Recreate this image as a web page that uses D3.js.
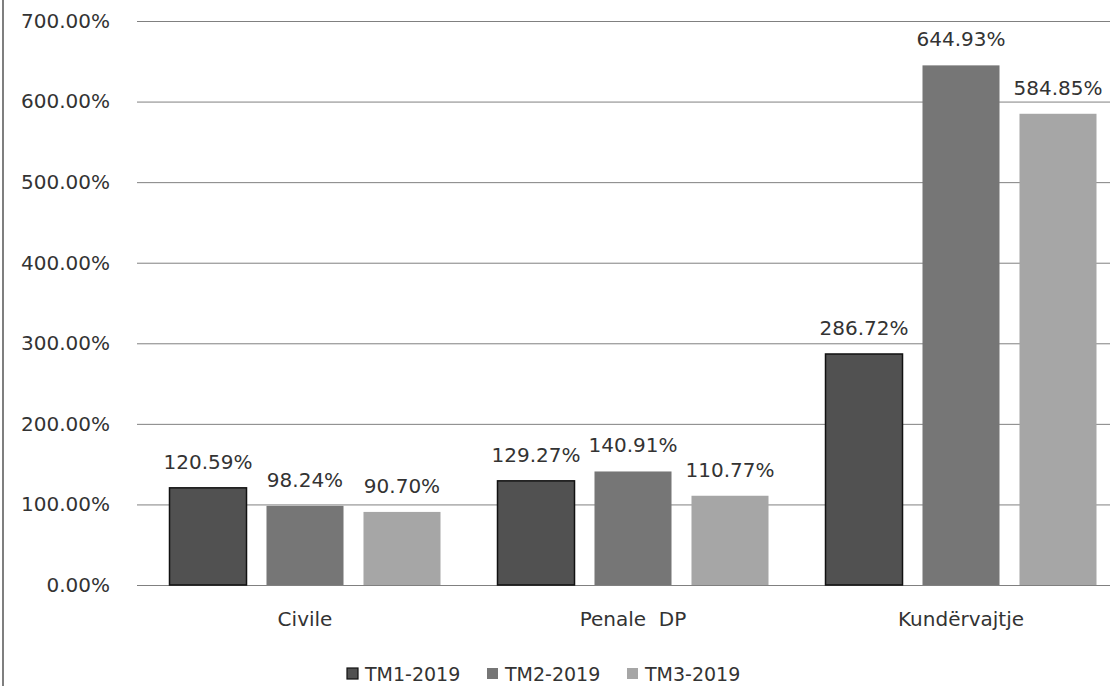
<!DOCTYPE html>
<html><head><meta charset="utf-8">
<script src="https://cdn.jsdelivr.net/npm/d3@7"></script>
<style>body{margin:0;background:#fff}svg{display:block}</style>
</head><body>
<svg id="c" width="1110" height="686"></svg>
<script>
const categories = ["Civile", "Penale  DP", "Kundërvajtje"];
const series = ["TM1-2019", "TM2-2019", "TM3-2019"];
const tm1 = [120.59, 129.27, 286.72];
const tm2 = [98.24, 140.91, 644.93];
const tm3 = [90.70, 110.77, 584.85];
const yTicks = [0, 100, 200, 300, 400, 500, 600, 700];
const colors = ["#515151", "#767676", "#a6a6a6"];
const strokes = ["#111", "none", "none"];

const values = [tm1, tm2, tm3];
const svg = d3.select("#c");
const font = "'DejaVu Sans', sans-serif";
const textCol = "#333";

const x0 = d3.scaleBand().domain(categories).range([141, 1125]).padding(0);
const x1 = d3.scaleBand().domain(series).range([28.5, x0.bandwidth() - 28.5]).paddingInner(0.206).paddingOuter(0);
const y = d3.scaleLinear().domain([0, 700]).range([585, 21]);

// left border
svg.append("line").attr("x1", 3).attr("x2", 3).attr("y1", 0).attr("y2", 686).attr("stroke", "#555").attr("stroke-width", 1.5);

// grid
const yAxis = d3.axisLeft(y).tickValues(yTicks).tickSize(-(1125 - 137)).tickFormat(d => d.toFixed(2) + "%");
const ga = svg.append("g").attr("transform", "translate(137,0)").call(yAxis);
ga.select(".domain").remove();
ga.selectAll(".tick line").attr("stroke", "#808080").attr("stroke-width", 1);
ga.selectAll(".tick text").attr("x", -27).attr("fill", textCol).style("font-family", font).style("font-size", "20px");

// bars
const groups = svg.append("g").selectAll("g").data(categories).join("g")
  .attr("transform", d => `translate(${x0(d)},0)`);
groups.each(function(cat, ci) {
  const g = d3.select(this);
  series.forEach((s, si) => {
    const v = values[si][ci];
    g.append("rect").attr("x", x1(s)).attr("width", x1.bandwidth())
      .attr("y", y(v)).attr("height", y(0) - y(v))
      .attr("fill", colors[si]).attr("stroke", strokes[si]).attr("stroke-width", 1.5);
    g.append("text").attr("x", x1(s) + x1.bandwidth() / 2).attr("y", y(v) - 19)
      .attr("text-anchor", "middle").attr("fill", textCol)
      .style("font-family", font).style("font-size", "20px")
      .text(v.toFixed(2) + "%");
  });
});

// category labels
const xAxis = d3.axisBottom(x0).tickSize(0);
const gx = svg.append("g").attr("transform", "translate(0,585)").call(xAxis);
gx.select(".domain").remove();
gx.selectAll(".tick text").attr("dy", 0).attr("y", 41).attr("fill", textCol)
  .style("font-family", font).style("font-size", "20px").style("white-space", "pre")
  .attr("xml:space", "preserve");

// legend
const legX = [347, 487, 627];
const leg = svg.append("g");
series.forEach((s, i) => {
  leg.append("rect").attr("x", legX[i]).attr("y", 668).attr("width", 11).attr("height", 11)
    .attr("fill", colors[i]).attr("stroke", strokes[i]).attr("stroke-width", 1.2);
  leg.append("text").attr("x", legX[i] + 18).attr("y", 681).attr("fill", textCol)
    .style("font-family", font).style("font-size", "19px").text(s);
});
</script>
</body></html>
